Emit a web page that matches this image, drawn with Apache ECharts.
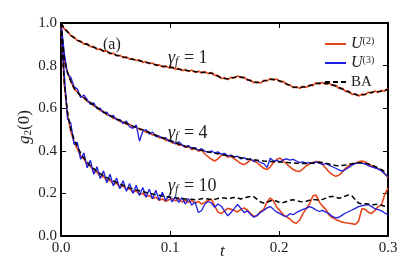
<!DOCTYPE html>
<html><head><meta charset="utf-8">
<script src="https://cdn.jsdelivr.net/npm/echarts@6/dist/echarts.min.js"></script>
<style>html,body{margin:0;padding:0;background:#fff}#c{width:415px;height:277px}</style>
</head><body><div id="c"></div>
<script>
const t = [
0,0.003,0.006,0.009,0.012,0.015,0.018,0.021,0.024,0.027,
0.03,0.033,0.036,0.039,0.042,0.045,0.048,0.051,0.054,0.057,
0.06,0.063,0.066,0.069,0.072,0.075,0.078,0.081,0.084,0.087,
0.09,0.093,0.096,0.099,0.102,0.105,0.108,0.111,0.114,0.117,
0.12,0.123,0.126,0.129,0.132,0.135,0.138,0.141,0.144,0.147,
0.15,0.153,0.156,0.159,0.162,0.165,0.168,0.171,0.174,0.177,
0.18,0.183,0.186,0.189,0.192,0.195,0.198,0.201,0.204,0.207,
0.21,0.213,0.216,0.219,0.222,0.225,0.228,0.231,0.234,0.237,
0.24,0.243,0.246,0.249,0.252,0.255,0.258,0.261,0.264,0.267,
0.27,0.273,0.276,0.279,0.282,0.285,0.288,0.291,0.294,0.297,
0.3];

// gamma_f = 1
const u2_g1 = [
1.000,0.972,0.962,0.940,0.934,0.917,0.915,0.901,0.903,0.889,
0.890,0.876,0.879,0.866,0.869,0.855,0.858,0.846,0.849,0.837,
0.841,0.830,0.833,0.824,0.827,0.815,0.819,0.809,0.812,0.800,
0.804,0.794,0.799,0.789,0.794,0.782,0.787,0.776,0.782,0.772,
0.779,0.768,0.774,0.765,0.772,0.762,0.768,0.754,0.754,0.739,
0.743,0.734,0.745,0.741,0.752,0.743,0.746,0.731,0.732,0.719,
0.724,0.718,0.731,0.728,0.739,0.732,0.737,0.724,0.726,0.710,
0.710,0.696,0.701,0.693,0.703,0.697,0.709,0.706,0.719,0.714,
0.721,0.712,0.718,0.706,0.708,0.693,0.694,0.679,0.680,0.665,
0.668,0.657,0.666,0.662,0.675,0.671,0.681,0.674,0.684,0.680,
0.693];
const ba_g1 = [
1.000,0.975,0.958,0.943,0.930,0.920,0.912,0.905,0.899,0.892,
0.886,0.880,0.875,0.870,0.865,0.859,0.854,0.849,0.845,0.841,
0.837,0.833,0.829,0.826,0.823,0.819,0.815,0.812,0.808,0.804,
0.800,0.797,0.795,0.793,0.790,0.786,0.783,0.780,0.778,0.776,
0.775,0.772,0.770,0.769,0.768,0.766,0.764,0.758,0.750,0.743,
0.739,0.738,0.741,0.745,0.748,0.747,0.742,0.735,0.728,0.723,
0.720,0.722,0.727,0.732,0.735,0.736,0.733,0.728,0.722,0.714,
0.706,0.700,0.697,0.697,0.699,0.701,0.705,0.710,0.715,0.718,
0.717,0.716,0.714,0.710,0.704,0.697,0.690,0.683,0.676,0.669,
0.664,0.661,0.662,0.666,0.671,0.675,0.677,0.678,0.680,0.684,
0.689];

// gamma_f = 4
const u2_g4 = [
1.000,0.820,0.765,0.728,0.690,0.678,0.655,0.650,0.632,0.628,
0.610,0.605,0.588,0.585,0.568,0.567,0.552,0.551,0.538,0.536,
0.524,0.525,0.511,0.512,0.499,0.500,0.486,0.487,0.474,0.475,
0.461,0.462,0.449,0.450,0.437,0.438,0.426,0.428,0.415,0.420,
0.405,0.412,0.398,0.404,0.385,0.372,0.360,0.352,0.362,0.378,
0.382,0.370,0.374,0.362,0.352,0.340,0.335,0.345,0.358,0.352,
0.344,0.330,0.318,0.312,0.325,0.345,0.360,0.366,0.352,0.338,
0.325,0.312,0.305,0.303,0.315,0.330,0.338,0.345,0.350,0.348,
0.335,0.318,0.300,0.288,0.280,0.285,0.300,0.318,0.330,0.338,
0.342,0.348,0.352,0.348,0.338,0.330,0.322,0.315,0.310,0.292,
0.275];
const u3_g4 = [
1.000,0.860,0.760,0.745,0.700,0.690,0.650,0.662,0.640,0.618,
0.625,0.598,0.600,0.578,0.582,0.560,0.566,0.545,0.548,0.528,
0.540,0.512,0.505,0.522,0.445,0.492,0.500,0.478,0.488,0.466,
0.470,0.458,0.462,0.444,0.448,0.432,0.442,0.428,0.418,0.425,
0.410,0.415,0.402,0.410,0.398,0.392,0.400,0.390,0.395,0.384,
0.388,0.376,0.380,0.370,0.375,0.362,0.368,0.358,0.362,0.350,
0.355,0.345,0.340,0.322,0.365,0.352,0.355,0.348,0.358,0.362,
0.356,0.360,0.352,0.345,0.348,0.342,0.345,0.340,0.348,0.342,
0.336,0.340,0.332,0.325,0.318,0.310,0.305,0.312,0.322,0.332,
0.340,0.345,0.342,0.338,0.330,0.325,0.320,0.315,0.305,0.292,
0.278];
const ba_g4 = [
1.000,0.830,0.770,0.725,0.695,0.675,0.660,0.648,0.636,0.625,
0.614,0.603,0.592,0.582,0.573,0.565,0.557,0.549,0.542,0.535,
0.529,0.523,0.516,0.510,0.504,0.498,0.492,0.486,0.479,0.473,
0.467,0.461,0.455,0.449,0.443,0.437,0.432,0.427,0.422,0.418,
0.414,0.410,0.406,0.402,0.398,0.395,0.392,0.389,0.386,0.383,
0.380,0.377,0.375,0.372,0.370,0.367,0.365,0.362,0.360,0.358,
0.356,0.354,0.352,0.351,0.350,0.349,0.348,0.347,0.346,0.345,
0.344,0.343,0.342,0.341,0.340,0.340,0.341,0.343,0.345,0.346,
0.345,0.342,0.338,0.334,0.331,0.330,0.331,0.333,0.336,0.339,
0.342,0.344,0.344,0.342,0.338,0.333,0.327,0.320,0.312,0.303,
0.295];

// gamma_f = 10
const u2_g10 = [
1.000,0.710,0.570,0.490,0.440,0.410,0.375,0.362,0.335,0.328,
0.302,0.300,0.278,0.280,0.260,0.262,0.243,0.248,0.228,0.236,
0.218,0.222,0.205,0.212,0.196,0.200,0.185,0.190,0.176,0.182,
0.168,0.174,0.162,0.170,0.176,0.165,0.172,0.160,0.168,0.158,
0.166,0.155,0.162,0.150,0.158,0.168,0.172,0.140,0.112,0.105,
0.118,0.130,0.125,0.120,0.113,0.125,0.132,0.122,0.105,0.092,
0.095,0.115,0.125,0.160,0.178,0.165,0.135,0.118,0.100,0.090,
0.080,0.065,0.060,0.075,0.105,0.130,0.150,0.188,0.192,0.160,
0.140,0.125,0.098,0.085,0.078,0.072,0.065,0.062,0.060,0.058,
0.054,0.070,0.128,0.125,0.112,0.106,0.120,0.138,0.145,0.195,
0.225];
const u3_g10 = [
1.000,0.760,0.550,0.530,0.430,0.440,0.360,0.390,0.320,0.355,
0.290,0.325,0.270,0.305,0.250,0.290,0.235,0.272,0.222,0.260,
0.210,0.246,0.200,0.238,0.190,0.228,0.182,0.220,0.175,0.215,
0.168,0.205,0.165,0.190,0.160,0.185,0.158,0.180,0.150,0.175,
0.145,0.160,0.110,0.120,0.150,0.162,0.155,0.135,0.150,0.140,
0.118,0.095,0.110,0.130,0.148,0.130,0.110,0.118,0.100,0.088,
0.098,0.110,0.120,0.132,0.138,0.125,0.112,0.105,0.095,0.092,
0.105,0.100,0.110,0.118,0.125,0.130,0.138,0.132,0.122,0.115,
0.120,0.112,0.105,0.092,0.085,0.088,0.098,0.108,0.115,0.122,
0.130,0.138,0.142,0.145,0.147,0.138,0.128,0.124,0.118,0.108,
0.100];
const ba_g10 = [
1.000,0.720,0.580,0.500,0.455,0.418,0.390,0.366,0.347,0.330,
0.316,0.304,0.293,0.283,0.274,0.266,0.258,0.251,0.244,0.238,
0.232,0.226,0.221,0.216,0.212,0.208,0.204,0.200,0.197,0.194,
0.191,0.188,0.185,0.183,0.181,0.179,0.177,0.175,0.174,0.173,
0.172,0.170,0.172,0.175,0.176,0.174,0.171,0.172,0.176,0.179,
0.178,0.176,0.178,0.181,0.179,0.174,0.177,0.183,0.186,0.184,
0.172,0.160,0.155,0.158,0.165,0.168,0.163,0.156,0.157,0.162,
0.168,0.170,0.167,0.162,0.160,0.163,0.168,0.171,0.170,0.169,
0.172,0.178,0.184,0.186,0.182,0.177,0.180,0.188,0.193,0.188,
0.170,0.155,0.150,0.152,0.150,0.146,0.148,0.149,0.144,0.140,
0.138];

const xTicks = [0, 0.1, 0.2, 0.3];
const yTicks = [0, 0.2, 0.4, 0.6, 0.8, 1.0];
const seriesNames = ['U2', 'U3', 'BA'];
const curveLabels = ['1', '4', '10'];

const ORANGE = '#e4461b', BLUE = '#1d1de0', BLACK = '#000';
const FONT = 'Liberation Serif';

function pairs(arr) { return t.map((x, i) => [x, arr[i]]); }
function mk(name, arr, color, width, dashed) {
  return {
    name: name, type: 'line', data: pairs(arr), symbol: 'none', showSymbol: false,
    xAxisIndex: 0, yAxisIndex: 0, animation: false,
    lineStyle: { color: color, width: width, type: dashed ? [5, 3] : 'solid' },
    itemStyle: { color: color }
  };
}

const chart = echarts.init(document.getElementById('c'), null, { renderer: 'canvas' });
const axisBase = {
  type: 'value', min: 0,
  axisLine: { show: true, onZero: false, lineStyle: { color: '#000', width: 2 } },
  axisTick: { show: true, inside: true, length: 5, lineStyle: { color: '#000', width: 1 } },
  splitLine: { show: false }
};
chart.setOption({
  animation: false,
  backgroundColor: '#fff',
  grid: { left: 61, right: 27, top: 23, bottom: 41 },
  xAxis: [
    Object.assign({}, axisBase, { max: 0.3, interval: 0.1, position: 'bottom',
      axisLabel: { margin: 5, color: '#222', fontFamily: FONT, fontSize: 15,
        formatter: v => xTicks.some(k => Math.abs(k - v) < 1e-9) ? v.toFixed(1) : '' } }),
    Object.assign({}, axisBase, { max: 0.3, interval: 0.1, position: 'top', axisLabel: { show: false } })
  ],
  yAxis: [
    Object.assign({}, axisBase, { max: 1, interval: 0.2, position: 'left',
      axisLabel: { margin: 4, color: '#222', fontFamily: FONT, fontSize: 15,
        formatter: v => yTicks.some(k => Math.abs(k - v) < 1e-9) ? v.toFixed(1) : '' } }),
    Object.assign({}, axisBase, { max: 1, interval: 0.2, position: 'right', axisLabel: { show: false } })
  ],
  legend: {
    data: seriesNames, orient: 'vertical', left: 319, top: 31,
    itemWidth: 21, itemHeight: 12, itemGap: 3,
    itemStyle: { color: 'rgba(0,0,0,0)', borderColor: 'rgba(0,0,0,0)', borderWidth: 0 },
    formatter: n => n === 'BA' ? '{r|BA}' : '{i|U}{s|(' + n.slice(1) + ')}',
    textStyle: { color: '#222', fontFamily: FONT, fontSize: 15, lineHeight: 16,
      rich: {
        r: { fontFamily: FONT, fontSize: 15, color: '#222', lineHeight: 16 },
        i: { fontFamily: FONT, fontSize: 16, fontStyle: 'italic', color: '#222', lineHeight: 16 },
        s: { fontFamily: FONT, fontSize: 10, color: '#222', lineHeight: 10, padding: [0, 0, 6, 0] }
      } }
  },
  graphic: [
    { type: 'text', left: 103, top: 37, style: { text: '(a)', font: '16px "Liberation Serif"', fill: '#222' } },
    ...curveLabels.map((c, k) => ({
      type: 'text', left: 168, top: [49, 124, 177][k],
      style: { text: '{g|γ}{f|f}{r| = ' + c + '}', fill: '#222',
        rich: {
          g: { fontFamily: FONT, fontSize: 18, fontStyle: 'italic', fill: '#222' },
          f: { fontFamily: FONT, fontSize: 12, fontStyle: 'italic', fill: '#222', padding: [7, 1, 0, 0] },
          r: { fontFamily: FONT, fontSize: 18, fill: '#222' }
        } }
    })),
    { type: 'text', x: 16, y: 144, rotation: Math.PI / 2,
      style: { text: '{g|g}{s|2}{r|(0)}', fill: '#222',
        rich: {
          g: { fontFamily: FONT, fontSize: 17, fontStyle: 'italic', fill: '#222' },
          s: { fontFamily: FONT, fontSize: 11, fill: '#222', padding: [7, 0, 0, 0] },
          r: { fontFamily: FONT, fontSize: 17, fill: '#222' }
        } } },
    { type: 'text', left: 220, top: 243,
      style: { text: 't', font: 'italic 17px "Liberation Serif"', fill: '#222' } }
  ],
  series: [
    mk('U2', u2_g1, ORANGE, 1.6),
    mk('U2', u2_g4, ORANGE, 1.6),
    mk('U2', u2_g10, ORANGE, 1.6),
    mk('U3', u3_g4, BLUE, 1.3),
    mk('U3', u3_g10, BLUE, 1.3),
    mk('BA', ba_g1, BLACK, 1.5, true),
    mk('BA', ba_g4, BLACK, 1.5, true),
    mk('BA', ba_g10, BLACK, 1.5, true)
  ]
});
</script></body></html>
